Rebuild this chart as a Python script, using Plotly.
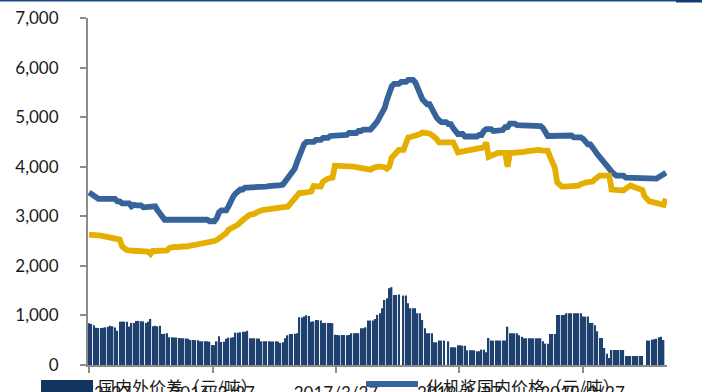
import pandas as pd
import plotly.graph_objects as go

# Weekly observations, 2015/3/27 onwards
week_start = "2015-03-27"
n_weeks = 245

# 国内外价差（元/吨）
spread = [
    840, 830, 800, 750, 745, 745, 750, 760, 774, 794,
    780, 754, 690, 875, 880, 875, 870, 775, 850, 848,
    889, 890, 885, 880, 848, 870, 929, 781, 790, 780,
    794, 626, 630, 640, 560, 560, 555, 555, 545, 540,
    540, 535, 530, 505, 505, 500, 500, 480, 478, 478,
    478, 470, 404, 400, 478, 579, 464, 470, 530, 552,
    552, 560, 653, 650, 660, 670, 673, 690, 540, 539,
    539, 535, 535, 478, 478, 480, 478, 475, 475, 478,
    475, 444, 460, 539, 600, 626, 626, 630, 640, 963,
    956, 980, 1003, 990, 875, 880, 909, 905, 900, 848,
    850, 845, 848, 845, 610, 606, 600, 606, 606, 600,
    606, 640, 640, 645, 640, 741, 741, 760, 896, 896,
    900, 930, 1010, 1044, 1145, 1313, 1347, 1549, 1569, 1414,
    1414, 1420, None, 1400, 1400, 1246, 1145, 1145, 1145, 1044,
    1044, 909, 741, 640, 640, 640, 458, 458, 492, 492,
    492, None, 478, 357, 357, 357, 397, 397, 390, 390,
    296, 296, 296, 296, 276, 276, 310, 310, 256, 545,
    492, 492, 492, 492, 492, 492, 492, 774, 640, 640,
    640, 640, 600, 572, 539, 539, 539, 539, 539, 539,
    539, 539, 478, 431, 431, 626, 626, 626, 1010, 1010,
    1010, 1010, 1044, 1044, 1044, 1044, 1044, 1044, 1044, 976,
    976, 976, 848, 848, 800, 680, 545, 545, 343, 229,
    141, 303, 303, 303, 303, 303, 303, 182, 182, 182,
    182, 182, 182, 182, 182, None, 492, 492, 510, 520,
    530, 560, 570, 505, None,
]

# 化机浆国内价格（元/吨）
domestic = [
    3480, 3440, 3400, 3370, 3350, 3350, 3350, 3350, 3350, 3350,
    3350, 3350, 3300, 3300, 3260, 3260, 3260, 3260, 3200, 3230,
    3220, 3220, 3220, 3180, 3180, 3200, 3200, 3200, 3200, 3120,
    3040, 2960, 2930, 2930, 2930, 2930, 2930, 2930, 2930, 2930,
    2930, 2930, 2930, 2930, 2930, 2930, 2930, 2930, 2930, 2930,
    2930, 2900, 2900, 2900, 2960, 3080, 3120, 3120, 3120, 3200,
    3320, 3400, 3460, 3500, 3540, 3540, 3580, 3580, 3580, 3580,
    3600, 3600, 3600, 3600, 3600, 3600, 3610, 3610, 3620, 3620,
    3620, 3630, 3640, 3700, 3760, 3820, 3880, 3960, 4100, 4250,
    4380, 4460, 4500, 4500, 4500, 4500, 4540, 4540, 4540, 4580,
    4580, 4580, 4620, 4620, 4620, 4620, 4640, 4640, 4640, 4640,
    4680, 4680, 4680, 4680, 4720, 4720, 4750, 4750, 4750, 4750,
    4800, 4850, 4920, 5010, 5100, 5180, 5350, 5500, 5620, 5670,
    5670, 5670, 5710, 5710, 5710, 5750, 5750, 5750, 5700, 5580,
    5450, 5360, 5310, 5260, 5260, 5150, 5070, 4990, 4940, 4900,
    4900, 4900, 4860, 4860, 4780, 4720, 4660, 4660, 4660, 4610,
    4610, 4610, 4610, 4610, 4610, 4640, 4640, 4720, 4760, 4760,
    4760, 4720, 4720, 4720, 4720, 4740, 4800, 4800, 4870, 4870,
    4870, 4840, 4840, 4840, 4840, 4830, 4830, 4840, 4840, 4840,
    4840, 4820, 4780, 4700, 4620, 4620, 4620, 4630, 4630, 4630,
    4630, 4630, 4630, 4630, 4630, 4590, 4590, 4590, 4590, 4560,
    4500, 4450, 4450, 4400, 4320, 4250, 4200, 4140, 4080, 4010,
    3960, 3900, 3860, 3820, 3820, 3820, 3820, 3780, 3780, 3780,
    3780, 3780, 3780, 3760, 3760, 3760, 3760, 3760, 3760, 3760,
    3760, 3790, 3820, 3860, 3880,
]

# 化机浆进口价格（元/吨）
imported = [
    2630, 2630, 2620, 2620, 2610, 2610, 2600, 2590, 2580, 2570,
    2570, 2560, 2550, 2530, 2390, 2350, 2320, 2310, 2300, 2300,
    2300, 2300, 2300, 2300, 2300, 2290, 2240, 2300, 2300, 2300,
    2300, 2300, 2300, 2310, 2360, 2380, 2380, 2380, 2390, 2390,
    2390, 2390, 2400, 2400, 2410, 2410, 2420, 2420, 2440, 2450,
    2460, 2460, 2480, 2500, 2520, 2550, 2580, 2600, 2660, 2730,
    2750, 2780, 2800, 2830, 2880, 2930, 2980, 3000, 3030, 3030,
    3050, 3080, 3110, 3120, 3130, 3140, 3140, 3150, 3150, 3150,
    3160, 3170, 3180, 3190, 3190, 3250, 3330, 3370, 3420, 3470,
    3470, 3480, 3490, 3500, 3500, 3610, 3610, 3600, 3600, 3700,
    3740, 3760, 3770, 3780, 4020, 4020, 4020, 4020, 4020, 4020,
    4020, 4000, 4000, 3990, 3980, 3960, 3950, 3940, 3940, 3940,
    3970, 4000, 4000, 4000, 4000, 3990, 3960, 4000, 4180, 4250,
    4300, 4340, 4340, 4340, 4470, 4590, 4600, 4610, 4620, 4640,
    4660, 4690, 4690, 4690, 4670, 4640, 4610, 4560, 4490, 4490,
    4490, 4490, 4490, 4490, 4490, 4400, 4290, 4300, 4310, 4320,
    4330, 4340, 4360, 4370, 4380, 4390, 4390, 4390, 4490, 4200,
    4220, 4250, 4280, 4280, 4280, 4280, 4280, 4000, 4280, 4280,
    4280, 4280, 4280, 4290, 4300, 4310, 4320, 4330, 4340, 4340,
    4340, 4330, 4320, 4320, 4320, 4200, 4080, 3980, 3680, 3620,
    3600, 3600, 3600, 3600, 3600, 3600, 3600, 3620, 3650, 3680,
    3680, 3690, 3700, 3700, 3750, 3790, 3820, 3820, 3820, 3820,
    3820, 3540, 3540, 3530, 3520, 3520, 3520, 3560, 3600, 3620,
    3600, 3580, 3570, 3560, 3530, 3400, 3330, 3300, 3290, 3280,
    3270, 3250, 3230, 3230, 3350,
]

tick_dates = ["2015-03-27", "2016-03-27", "2017-03-27", "2018-03-27", "2019-03-27"]
tick_text = ["2015/3/27", "2016/3/27", "2017/3/27", "2018/3/27", "2019/3/27"]
y_ticks = [0, 1000, 2000, 3000, 4000, 5000, 6000, 7000]

dates = pd.date_range(week_start, periods=n_weeks, freq="7D")

W, H = 702, 392
L, R, T, B = 88, 35, 18, 27

NAVY = "#12355F"
BAR = "#1E416F"
BLUE = "#36639A"
GOLD = "#E4AF00"
AXIS = "#8C8C8C"
FONT = "Lato"
CJK = "Noto Sans CJK SC"


def px_x(p):
    return (p - L) / (W - L - R)


def px_y(p):
    return (H - B - p) / (H - T - B)


fig = go.Figure()
fig.add_trace(go.Bar(x=dates, y=spread, name="国内外价差（元/吨）",
                     marker=dict(color=BAR, line=dict(width=0))))
fig.add_trace(go.Scatter(x=dates, y=domestic, name="化机浆国内价格（元/吨）",
                         mode="lines", line=dict(color=BLUE, width=5.8)))
fig.add_trace(go.Scatter(x=dates, y=imported, name="化机浆进口价格（元/吨）",
                         mode="lines", line=dict(color=GOLD, width=5.8)))

shapes = [
    # thin rule along the top edge, heavier on the right end
    dict(type="line", xref="paper", yref="paper", x0=px_x(0), x1=px_x(676),
         y0=px_y(0.8), y1=px_y(0.8), line=dict(color="#1B4A86", width=1.6)),
    dict(type="line", xref="paper", yref="paper", x0=px_x(676), x1=px_x(702),
         y0=px_y(1), y1=px_y(1), line=dict(color="#0F3C78", width=3)),
    # legend keys
    dict(type="rect", xref="paper", yref="paper", x0=px_x(41), x1=px_x(93),
         y0=px_y(392), y1=px_y(380), line=dict(width=0), fillcolor=NAVY),
    dict(type="line", xref="paper", yref="paper", x0=px_x(366), x1=px_x(418),
         y0=px_y(384), y1=px_y(384), line=dict(color=BLUE, width=6)),
]

annotations = [
    dict(text="国内外价差（元/吨）", xref="paper", yref="paper",
         x=px_x(96), y=px_y(386), xanchor="left", yanchor="middle",
         showarrow=False, font=dict(family=CJK, size=17, color="#1a1a1a")),
    dict(text="化机浆国内价格（元/吨）", xref="paper", yref="paper",
         x=px_x(424), y=px_y(386), xanchor="left", yanchor="middle",
         showarrow=False, font=dict(family=CJK, size=17, color="#1a1a1a")),
]

fig.update_layout(
    width=W, height=H,
    margin=dict(l=L, r=R, t=T, b=B, autoexpand=False),
    paper_bgcolor="white", plot_bgcolor="white",
    showlegend=False, bargap=0.4,
    shapes=shapes, annotations=annotations,
    font=dict(family=FONT, size=17, color="#1a1a1a"),
)
fig.update_xaxes(
    type="date", range=["2015-03-24", "2019-12-02"],
    tickvals=tick_dates, ticktext=tick_text,
    showline=True, linecolor=AXIS, linewidth=2,
    ticks="outside", ticklen=6, tickcolor=AXIS, tickwidth=1.5,
    ticklabelstandoff=6,
    showgrid=False, zeroline=False,
    tickfont=dict(family=FONT, size=17, color="#1a1a1a"),
)
fig.update_yaxes(
    range=[0, 7000], tickvals=y_ticks, tickformat=",",
    showline=True, linecolor=AXIS, linewidth=2,
    ticks="outside", ticklen=6, tickcolor=AXIS, tickwidth=1.5,
    ticklabelstandoff=18,
    showgrid=False, zeroline=False,
    tickfont=dict(family=FONT, size=17, color="#1a1a1a"),
)

fig.write_html("out.html")
